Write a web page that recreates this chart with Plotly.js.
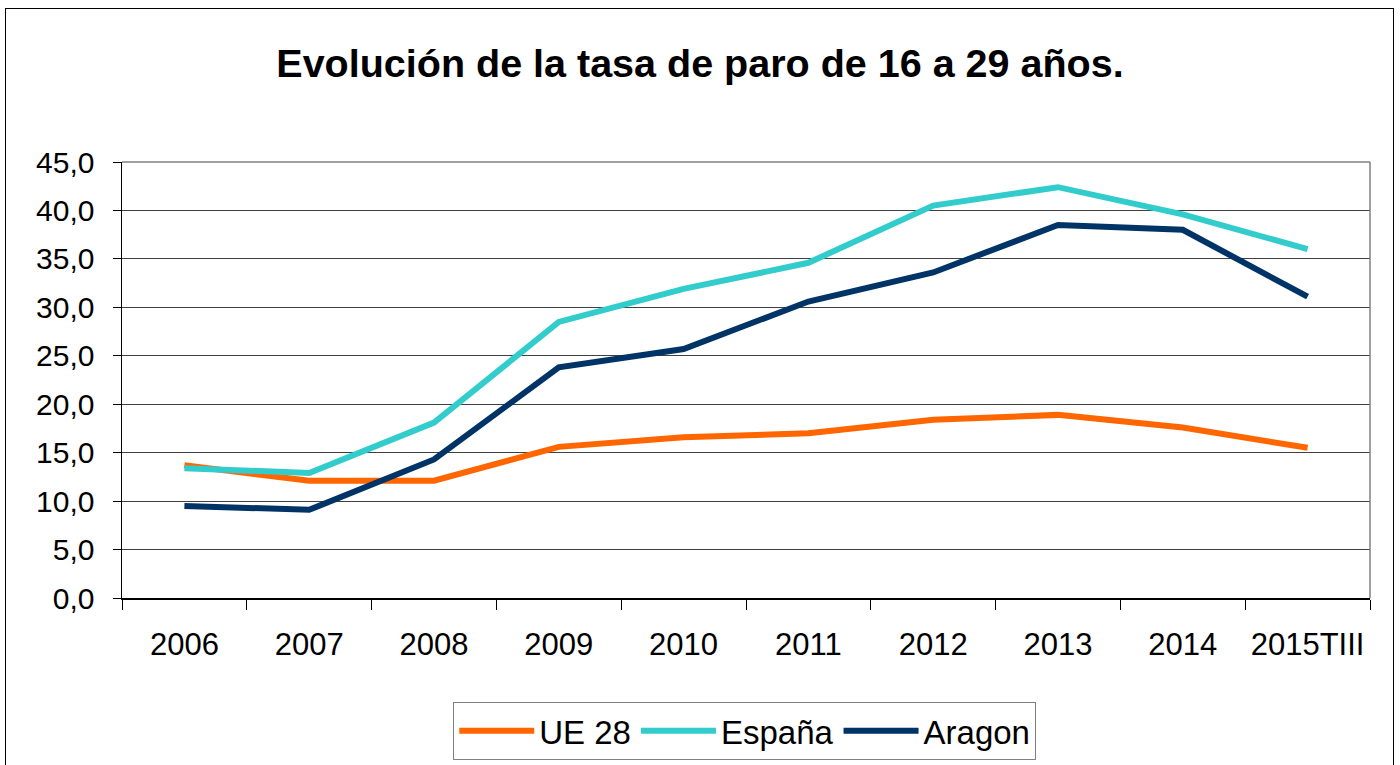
<!DOCTYPE html>
<html>
<head>
<meta charset="utf-8">
<script src="https://cdn.plot.ly/plotly-3.0.1.min.js"></script>
<style>
  html, body { margin: 0; padding: 0; background: #ffffff; overflow: hidden; }
  #frame { position: absolute; left: 5px; top: 8px; width: 1389px; height: 800px; border: 1.5px solid #000; box-sizing: border-box; }
  #chart { position: absolute; left: 0; top: 0; width: 1400px; height: 765px; }
</style>
</head>
<body>
<div id="frame"></div>
<div id="chart"></div>
<script>
const categories = ['2006', '2007', '2008', '2009', '2010', '2011', '2012', '2013', '2014', '2015TIII'];
const ue28   = [13.7, 12.1, 12.1, 15.6, 16.6, 17.0, 18.4, 18.9, 17.6, 15.5];
const espana = [13.4, 12.9, 18.1, 28.5, 31.9, 34.6, 40.5, 42.4, 39.6, 36.0];
const aragon = [9.5, 9.1, 14.3, 23.8, 25.7, 30.6, 33.6, 38.5, 38.0, 31.1];
const yTicks = [0, 5, 10, 15, 20, 25, 30, 35, 40, 45];

const font = 'Liberation Sans, Arial, sans-serif';
function line(name, y, color) {
  return { type: 'scatter', mode: 'lines', name: name, x: categories, y: y,
           line: { color: color, width: 6 }, hoverinfo: 'x+y+name' };
}
const data = [
  line('UE 28', ue28, '#FF6600'),
  line('España', espana, '#33CCCC'),
  line('Aragon', aragon, '#003366')
];
const layout = {
  width: 1400, height: 765,
  paper_bgcolor: 'rgba(0,0,0,0)', plot_bgcolor: '#ffffff',
  separators: ',.',
  margin: { l: 122, r: 30, t: 162, b: 167, autoexpand: false },
  font: { family: font, color: '#000' },
  title: { text: '<b>Evolución de la tasa de paro de 16 a 29 años.</b>',
           font: { family: font, size: 39.5, color: '#000' },
           x: 0.5, xanchor: 'center', xref: 'container', y: 0.918, yanchor: 'middle' },
  xaxis: {
    type: 'category', tickson: 'boundaries', ticks: 'outside', ticklen: 10, tickcolor: '#000',
    showgrid: false, showline: true, linecolor: '#000', linewidth: 1.5,
    tickfont: { family: font, size: 31, color: '#000' }, ticklabelstandoff: 18,
    range: [-0.5, 9.5], fixedrange: true
  },
  yaxis: {
    range: [0, 45], tickvals: yTicks, tickformat: '.1f', ticks: 'outside', ticklen: 8, tickcolor: '#000',
    showgrid: true, gridcolor: '#404040', gridwidth: 1, zeroline: false,
    showline: true, linecolor: '#000', linewidth: 1.5,
    tickfont: { family: font, size: 30, color: '#000' }, ticklabelstandoff: 12, fixedrange: true
  },
  shapes: [
    { type: 'line', xref: 'paper', yref: 'paper', x0: 0, x1: 1, y0: 1, y1: 1, line: { color: '#808080', width: 1.5 } },
    { type: 'line', xref: 'paper', yref: 'paper', x0: 1, x1: 1, y0: 0, y1: 1, line: { color: '#808080', width: 1.5 } }
  ],
  showlegend: true,
  legend: {
    orientation: 'h', x: 0.499, xanchor: 'center', y: -0.238, yanchor: 'top',
    bordercolor: '#808080', borderwidth: 1, bgcolor: '#ffffff',
    font: { family: font, size: 33, color: '#000' }, itemwidth: 75,
    tracegroupgap: 0
  }
};
Plotly.newPlot('chart', data, layout, { displayModeBar: false, staticPlot: true });
</script>
</body>
</html>
